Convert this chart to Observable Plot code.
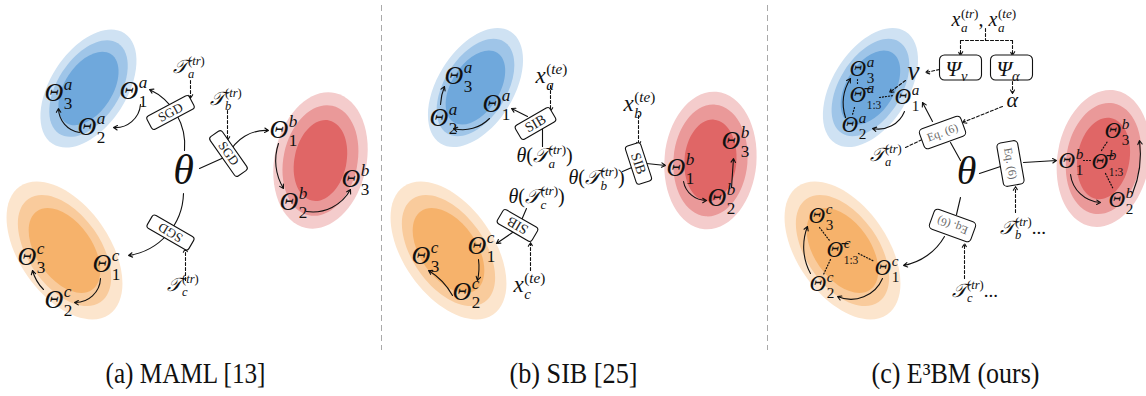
<!DOCTYPE html>
<html><head><meta charset="utf-8">
<script src="https://cdn.jsdelivr.net/npm/d3@7"></script>
<script src="https://cdn.jsdelivr.net/npm/@observablehq/plot@0.6"></script>
<style>html,body{margin:0;padding:0;background:#fff}svg{display:block}</style>
</head><body><div id="chart"></div><script>
// ---------- data ----------
const captions = ["(a) MAML [13]", "(b) SIB [25]", "(c) E³BM (ours)"];
const captionX = [185, 573, 955];
const captionWidth = [160, 128, 168];
const separators = [381, 767];

const hueColors = {
  blue:   ["#cfe2f3", "#9fc5e8", "#6fa8dc"],
  orange: ["#fce5cd", "#f9cb9c", "#f6b26b"],
  red:    ["#f4cccc", "#ea9999", "#e06666"]
};
const hueShapes = {
  blue:   [[66, 38], [54, 31], [41, 24]],
  orange: [[78, 45], [63, 36], [48, 28]],
  red:    [[69, 46], [56, 37], [41, 26]]
};
const blobs = [
  {hue: "blue", x: 88, y: 88, rot: -57}, {hue: "orange", x: 64, y: 250, rot: 55}, {hue: "red", x: 320, y: 160, rot: -78},
  {hue: "blue", x: 475, y: 87, rot: -58}, {hue: "orange", x: 448, y: 250, rot: 55}, {hue: "red", x: 710, y: 160, rot: -85},
  {hue: "blue", x: 870, y: 87, rot: -58}, {hue: "orange", x: 842, y: 250, rot: 55}, {hue: "red", x: 1103, y: 158, rot: -80}
];

const thetas = [{x: 183, y: 170, s: 42}, {x: 966, y: 171, s: 40}];

const mathLabels = [
  {x: 44, y: 92, tex: "Θ^{a}_{3}", s: 26}, {x: 119, y: 90, tex: "Θ^{a}_{1}", s: 26}, {x: 77, y: 126, tex: "Θ^{a}_{2}", s: 26},
  {x: 269, y: 129, tex: "Θ^{b}_{1}", s: 26}, {x: 279, y: 201, tex: "Θ^{b}_{2}", s: 26}, {x: 341, y: 178, tex: "Θ^{b}_{3}", s: 26},
  {x: 92, y: 263, tex: "Θ^{c}_{1}", s: 26}, {x: 17, y: 256, tex: "Θ^{c}_{3}", s: 26}, {x: 44, y: 299, tex: "Θ^{c}_{2}", s: 26},
  {x: 172, y: 66, tex: "𝒯_{a}^{(tr)}", s: 19}, {x: 209, y: 98, tex: "𝒯_{b}^{(tr)}", s: 19}, {x: 166, y: 284, tex: "𝒯_{c}^{(tr)}", s: 19},

  {x: 444, y: 75, tex: "Θ^{a}_{3}", s: 26}, {x: 482, y: 103, tex: "Θ^{a}_{1}", s: 26}, {x: 429, y: 117, tex: "Θ^{a}_{2}", s: 26},
  {x: 666, y: 167, tex: "Θ^{b}_{1}", s: 26}, {x: 721, y: 140, tex: "Θ^{b}_{3}", s: 26}, {x: 707, y: 197, tex: "Θ^{b}_{2}", s: 26},
  {x: 467, y: 245, tex: "Θ^{c}_{1}", s: 26}, {x: 411, y: 255, tex: "Θ^{c}_{3}", s: 26}, {x: 452, y: 291, tex: "Θ^{c}_{2}", s: 26},
  {x: 535, y: 75, tex: "x_{a}^{(te)}", s: 23}, {x: 623, y: 103, tex: "x_{b}^{(te)}", s: 23}, {x: 513, y: 284, tex: "x_{c}^{(te)}", s: 23},
  {x: 516, y: 155, tex: "θ(𝒯_{a}^{(tr)})", s: 20}, {x: 568, y: 177, tex: "θ(𝒯_{b}^{(tr)})", s: 20}, {x: 508, y: 196, tex: "θ(𝒯_{c}^{(tr)})", s: 20},

  {x: 849, y: 68, tex: "Θ^{a}_{3}", s: 23}, {x: 849, y: 94, tex: "Θ\u0304^{a}_{1:3}", s: 23}, {x: 894, y: 96, tex: "Θ^{a}_{1}", s: 23}, {x: 841, y: 124, tex: "Θ^{a}_{2}", s: 23},
  {x: 1058, y: 160, tex: "Θ^{b}_{1}", s: 23}, {x: 1091, y: 161, tex: "Θ\u0304^{b}_{1:3}", s: 23}, {x: 1104, y: 130, tex: "Θ^{b}_{3}", s: 23}, {x: 1108, y: 199, tex: "Θ^{b}_{2}", s: 23},
  {x: 808, y: 215, tex: "Θ^{c}_{3}", s: 23}, {x: 826, y: 249, tex: "Θ\u0304^{c}_{1:3}", s: 23}, {x: 874, y: 267, tex: "Θ^{c}_{1}", s: 23}, {x: 809, y: 283, tex: "Θ^{c}_{2}", s: 23},
  {x: 951, y: 19, tex: "x_{a}^{(tr)}, x_{a}^{(te)}", s: 20},
  {x: 945, y: 68, tex: "Ψ_{v}", s: 22}, {x: 996, y: 68, tex: "Ψ_{α}", s: 22},
  {x: 907, y: 71, tex: "v", s: 27}, {x: 1006, y: 99, tex: "α", s: 22},
  {x: 869, y: 154, tex: "𝒯_{a}^{(tr)}", s: 19}, {x: 999, y: 227, tex: "𝒯_{b}^{(tr)}...", s: 19}, {x: 951, y: 290, tex: "𝒯_{c}^{(tr)}...", s: 19}
];

const boxKinds = {SGD: [48, 15, 3], SIB: [40, 16, 3], Eq: [44, 21, 4], Psi: [42, 25, 5]};
const boxes = [
  {kind: "SGD", x: 170, y: 112, rot: -28, label: "SGD"},
  {kind: "SGD", x: 228, y: 153, rot: 55, label: "SGD"},
  {kind: "SGD", x: 170, y: 232, rot: 210, label: "SGD"},
  {kind: "SIB", x: 535, y: 123, rot: -30, label: "SIB"},
  {kind: "SIB", x: 638, y: 163, rot: 72, label: "SIB"},
  {kind: "SIB", x: 517, y: 225, rot: 210, label: "SIB"},
  {kind: "Eq", x: 942, y: 132, rot: -20, label: "Eq. (6)"},
  {kind: "Eq", x: 1010, y: 163, rot: 80, label: "Eq. (6)"},
  {kind: "Eq", x: 952, y: 225, rot: 200, label: "Eq. (6)"},
  {kind: "Psi", x: 960, y: 67, rot: 0, label: ""},
  {kind: "Psi", x: 1011, y: 67, rot: 0, label: ""}
];

// style: "a" arrow, "l" plain line, "d" dashed arrow, "dl" dashed line, "o" dotted line
const links = [
  // panel a
  {x1: 184, y1: 150, x2: 149, y2: 89, bend: -35, st: "a"},
  {x1: 199, y1: 168, x2: 228, y2: 155, bend: 0, st: "l"},
  {x1: 228, y1: 154, x2: 268, y2: 130, bend: 35, st: "a"},
  {x1: 183, y1: 193, x2: 128, y2: 255, bend: 40, st: "a"},
  {x1: 140, y1: 104, x2: 113, y2: 127, bend: 45, st: "a"},
  {x1: 79, y1: 132, x2: 58, y2: 108, bend: 40, st: "a"},
  {x1: 278, y1: 143, x2: 283, y2: 188, bend: -25, st: "a"},
  {x1: 306, y1: 211, x2: 350, y2: 189, bend: -35, st: "a"},
  {x1: 100, y1: 278, x2: 74, y2: 302, bend: 45, st: "a"},
  {x1: 43, y1: 289, x2: 32, y2: 270, bend: 15, st: "a"},
  {x1: 190, y1: 80, x2: 190, y2: 98, bend: 0, st: "d"},
  {x1: 227, y1: 110, x2: 227, y2: 140, bend: 0, st: "d"},
  {x1: 185, y1: 280, x2: 185, y2: 248, bend: 0, st: "d"},
  // panel b
  {x1: 489, y1: 118, x2: 453, y2: 128, bend: 30, st: "a"},
  {x1: 440, y1: 104, x2: 444, y2: 86, bend: 10, st: "a"},
  {x1: 527, y1: 116, x2: 511, y2: 108, bend: 0, st: "a"},
  {x1: 542, y1: 146, x2: 542, y2: 128, bend: 0, st: "l"},
  {x1: 550, y1: 85, x2: 550, y2: 111, bend: 0, st: "d"},
  {x1: 622, y1: 171, x2: 636, y2: 165, bend: 0, st: "l"},
  {x1: 646, y1: 163, x2: 665, y2: 165, bend: 0, st: "a"},
  {x1: 638, y1: 115, x2: 638, y2: 145, bend: 0, st: "d"},
  {x1: 683, y1: 181, x2: 706, y2: 200, bend: -40, st: "a"},
  {x1: 731, y1: 187, x2: 733, y2: 158, bend: 0, st: "a"},
  {x1: 526, y1: 208, x2: 520, y2: 222, bend: 0, st: "l"},
  {x1: 512, y1: 232, x2: 496, y2: 243, bend: 0, st: "a"},
  {x1: 530, y1: 270, x2: 530, y2: 242, bend: 0, st: "d"},
  {x1: 478, y1: 259, x2: 477, y2: 280, bend: 10, st: "a"},
  {x1: 452, y1: 295, x2: 428, y2: 270, bend: -15, st: "a"},
  // panel c
  {x1: 985, y1: 28, x2: 985, y2: 40, bend: 0, st: "dl"},
  {x1: 960, y1: 40, x2: 1012, y2: 40, bend: 0, st: "dl"},
  {x1: 960, y1: 40, x2: 960, y2: 55, bend: 0, st: "d"},
  {x1: 1012, y1: 40, x2: 1012, y2: 55, bend: 0, st: "d"},
  {x1: 939, y1: 69, x2: 925, y2: 72, bend: 0, st: "d"},
  {x1: 1012, y1: 81, x2: 1012, y2: 93, bend: 0, st: "d"},
  {x1: 1002, y1: 106, x2: 962, y2: 122, bend: 0, st: "d"},
  {x1: 905, y1: 147, x2: 926, y2: 137, bend: 0, st: "d"},
  {x1: 905, y1: 80, x2: 889, y2: 92, bend: 0, st: "d"},
  {x1: 960, y1: 160, x2: 950, y2: 142, bend: 0, st: "l"},
  {x1: 932, y1: 121, x2: 922, y2: 102, bend: 0, st: "a"},
  {x1: 979, y1: 173, x2: 1000, y2: 166, bend: 0, st: "l"},
  {x1: 1023, y1: 162, x2: 1056, y2: 160, bend: 0, st: "a"},
  {x1: 1015, y1: 212, x2: 1015, y2: 186, bend: 0, st: "d"},
  {x1: 960, y1: 197, x2: 956, y2: 214, bend: 0, st: "l"},
  {x1: 944, y1: 236, x2: 903, y2: 265, bend: 25, st: "a"},
  {x1: 964, y1: 278, x2: 964, y2: 243, bend: 0, st: "d"},
  {x1: 904, y1: 111, x2: 872, y2: 128, bend: 40, st: "a"},
  {x1: 845, y1: 117, x2: 850, y2: 78, bend: 25, st: "a"},
  {x1: 1070, y1: 174, x2: 1100, y2: 202, bend: -40, st: "a"},
  {x1: 1132, y1: 193, x2: 1139, y2: 140, bend: -15, st: "a"},
  {x1: 810, y1: 273, x2: 807, y2: 226, bend: 25, st: "a"},
  {x1: 882, y1: 278, x2: 837, y2: 296, bend: 45, st: "a"},
  {x1: 857, y1: 79, x2: 857, y2: 85, bend: 0, st: "o"},
  {x1: 879, y1: 97, x2: 893, y2: 95, bend: 0, st: "o"},
  {x1: 854, y1: 107, x2: 852, y2: 114, bend: 0, st: "o"},
  {x1: 1083, y1: 160, x2: 1091, y2: 160, bend: 0, st: "o"},
  {x1: 1101, y1: 150, x2: 1107, y2: 141, bend: 0, st: "o"},
  {x1: 1105, y1: 173, x2: 1113, y2: 189, bend: 0, st: "o"},
  {x1: 819, y1: 227, x2: 829, y2: 240, bend: 0, st: "o"},
  {x1: 858, y1: 253, x2: 874, y2: 261, bend: 0, st: "o"},
  {x1: 830, y1: 259, x2: 823, y2: 274, bend: 0, st: "o"}
];

// ---------- symbols ----------
function ellipseSymbol(rx, ry) {
  const k = 0.5522847498;
  return {draw(ctx) {
    ctx.moveTo(rx, 0);
    ctx.bezierCurveTo(rx, ry * k, rx * k, ry, 0, ry);
    ctx.bezierCurveTo(-rx * k, ry, -rx, ry * k, -rx, 0);
    ctx.bezierCurveTo(-rx, -ry * k, -rx * k, -ry, 0, -ry);
    ctx.bezierCurveTo(rx * k, -ry, rx, -ry * k, rx, 0);
    ctx.closePath();
  }};
}
function roundRect(w, h, r) {
  return {draw(ctx) {
    const x0 = -w / 2, y0 = -h / 2, x1 = w / 2, y1 = h / 2;
    ctx.moveTo(x0 + r, y0); ctx.lineTo(x1 - r, y0); ctx.arcTo(x1, y0, x1, y0 + r, r);
    ctx.lineTo(x1, y1 - r); ctx.arcTo(x1, y1, x1 - r, y1, r);
    ctx.lineTo(x0 + r, y1); ctx.arcTo(x0, y1, x0, y1 - r, r);
    ctx.lineTo(x0, y0 + r); ctx.arcTo(x0, y0, x0 + r, y0, r);
    ctx.closePath();
  }};
}

// ---------- marks ----------
const serif = "Liberation Serif, Times New Roman, serif";
const marks = [];
for (const hue of Object.keys(hueColors)) {
  hueShapes[hue].forEach(([a, b], i) => {
    marks.push(Plot.dot(blobs.filter(d => d.hue === hue), {
      x: "x", y: "y", rotate: "rot", symbol: ellipseSymbol(a, b),
      fill: hueColors[hue][i], stroke: "none"
    }));
  });
}
marks.push(Plot.ruleX(separators, {y1: 5, y2: 350, stroke: "#aaa", strokeWidth: 1, strokeDasharray: "6,4"}));
for (const d of links) {
  const dashed = d.st === "d" || d.st === "dl";
  marks.push(Plot.arrow([d], {
    x1: "x1", y1: "y1", x2: "x2", y2: "y2", bend: d.bend,
    headLength: (d.st === "a" || d.st === "d") ? 6 : 0, headAngle: 60,
    stroke: "#111", strokeWidth: d.st === "o" ? 1.2 : 1.1,
    strokeDasharray: dashed ? "3,2" : d.st === "o" ? "1,2" : null
  }));
}
for (const kind of Object.keys(boxKinds)) {
  const [w, h, r] = boxKinds[kind];
  marks.push(Plot.dot(boxes.filter(d => d.kind === kind), {
    x: "x", y: "y", rotate: "rot", symbol: roundRect(w, h, r),
    fill: "white", stroke: "#111", strokeWidth: 1.1
  }));
}
marks.push(Plot.text(boxes.filter(d => d.kind === "SGD" || d.kind === "SIB"), {
  x: "x", y: "y", rotate: "rot", text: "label", fontFamily: serif, fontSize: d => d.kind === "SIB" ? 14 : 13, fill: "#222"
}));
marks.push(Plot.text(boxes.filter(d => d.kind === "Eq"), {
  x: "x", y: "y", rotate: "rot", text: "label", fontFamily: serif, fontSize: 11.5, fill: "#666"
}));
marks.push(Plot.text(thetas, {x: "x", y: "y", text: () => "θ", fontSize: "s", fontFamily: serif, fontStyle: "italic", fill: "#111"}));
marks.push(Plot.text(mathLabels, {x: "x", y: "y", text: "tex", fontSize: "s", fontFamily: serif, textAnchor: "start", fill: "#111"}));
marks.push(Plot.text(captions, {x: (d, i) => captionX[i], y: () => 373, text: d => d, fontFamily: serif, fontSize: 29, fill: "#111"}));

const svg = Plot.plot({
  width: 1146, height: 396, margin: 0,
  x: {domain: [0, 1146], range: [0, 1146], axis: null},
  y: {domain: [0, 396], range: [0, 396], axis: null},
  style: {background: "white", overflow: "visible"},
  marks
});
document.getElementById("chart").appendChild(svg);

// condensed caption lettering, as in the reference
svg.querySelectorAll("text").forEach(el => {
  const k = captions.indexOf(el.textContent);
  if (k >= 0) { el.setAttribute("textLength", captionWidth[k]); el.setAttribute("lengthAdjust", "spacingAndGlyphs"); }
});

// ---------- typeset math labels (sub/superscripts as tspans) ----------
const LETTER = /[\p{L}\u0304]/u;
function parse(s) {
  const out = []; let i = 0, buf = "";
  while (i < s.length) {
    const c = s[i];
    if ((c === "^" || c === "_") && s[i + 1] === "{") {
      if (buf) { out.push({t: "n", s: buf}); buf = ""; }
      let depth = 1, j = i + 2;
      while (j < s.length && depth > 0) { if (s[j] === "{") depth++; else if (s[j] === "}") depth--; j++; }
      out.push({t: c === "^" ? "sup" : "sub", s: s.slice(i + 2, j - 1)});
      i = j;
    } else { buf += c; i++; }
  }
  if (buf) out.push({t: "n", s: buf});
  return out;
}
const NS = "http://www.w3.org/2000/svg";
function typeset(el, tex, fs) {
  while (el.firstChild) el.removeChild(el.firstChild);
  function put(str, size, dy, dx) {
    const parts = []; let cur = null;
    for (const ch of Array.from(str)) {
      const it = LETTER.test(ch);
      if (!cur || cur.it !== it) { cur = {it, s: ""}; parts.push(cur); }
      cur.s += ch;
    }
    let w = 0, first = true;
    for (const p of parts) {
      const t = document.createElementNS(NS, "tspan");
      t.setAttribute("font-size", size);
      t.setAttribute("font-style", p.it ? "italic" : "normal");
      if (first) { if (dy) t.setAttribute("dy", dy); if (dx) t.setAttribute("dx", dx); first = false; }
      t.textContent = p.s;
      el.appendChild(t);
      w += t.getComputedTextLength();
    }
    return w;
  }
  const toks = parse(tex);
  let level = 0, pending = 0, i = 0;
  while (i < toks.length) {
    const tk = toks[i];
    if (tk.t === "n") { put(tk.s, fs, -level, pending); level = 0; pending = 0; i++; continue; }
    let sup = null, sub = null;
    while (i < toks.length && toks[i].t !== "n") {
      if (toks[i].t === "sup" && !sup) sup = toks[i];
      else if (toks[i].t === "sub" && !sub) sub = toks[i];
      else break;
      i++;
    }
    const ss = fs * 0.66;
    let supW = 0, subW = 0;
    if (sup) { const target = -0.4 * fs; supW = put(sup.s, ss, target - level, pending + 0.5); pending = 0; level = target; }
    if (sub) {
      const target = sup ? 0.3 * fs : 0.24 * fs;
      const sz = sub.s.length > 2 ? fs * 0.5 : ss;
      subW = put(sub.s, sz, target - level, (sup ? -supW : 0) + pending); pending = 0; level = target;
    }
    if (sup && sub && supW > subW) pending = supW - subW;
  }
}
const texSet = new Set(mathLabels.map(d => d.tex));
svg.querySelectorAll("text").forEach(el => {
  if (el.querySelector("tspan")) return;
  const tex = el.textContent;
  if (!texSet.has(tex)) return;
  const fs = parseFloat(el.getAttribute("font-size") || getComputedStyle(el).fontSize);
  typeset(el, tex, fs);
});
</script></body></html>
